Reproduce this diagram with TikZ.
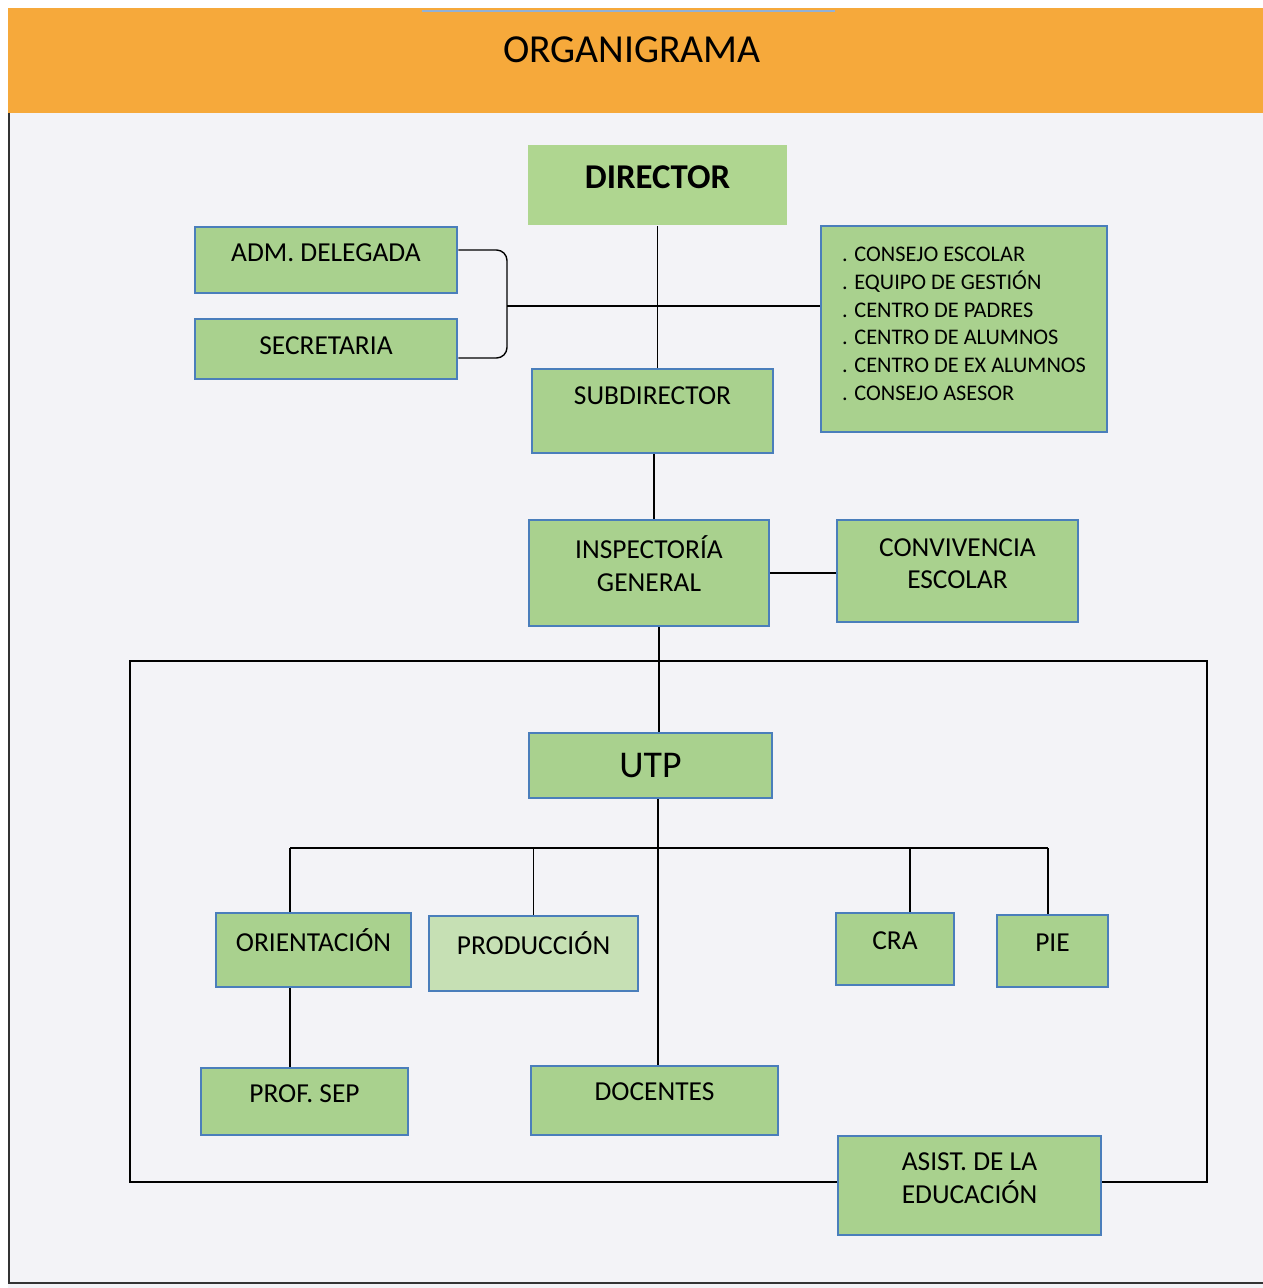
\documentclass[tikz,border=0pt]{standalone}
\usepackage{fontspec}
\setmainfont{Carlito}

\definecolor{naranja}{HTML}{F6A93B}
\definecolor{verde}{HTML}{A9D18E}
\definecolor{verdedir}{HTML}{AFD690}
\definecolor{verdeclaro}{HTML}{C6E0B4}
\definecolor{azulborde}{HTML}{4A7EBB}
\definecolor{fondo}{HTML}{F3F3F7}

\tikzset{
  caja/.style={draw=azulborde, line width=1.6pt, fill=verde, align=center,
    font=\fontsize{15.6}{18.7}\selectfont, inner sep=2pt},
  linea/.style={black, line width=0.8pt},
  sube/.style={text depth=#1},
}

\begin{document}
\begin{tikzpicture}[x=0.02cm, y=-0.02cm]

        \useasboundingbox (0,0) rectangle (1263,1288);

        % Fondo de la hoja y franja del título
        \fill[white] (0,0) rectangle (1263,1288);
        \fill[fondo] (8,8) rectangle (1263,1288);
        \fill[naranja] (8,8) rectangle (1263,113);
        \draw[azulborde!60, line width=0.6pt] (422,11) -- (835,11);
        \node[font=\fontsize{22.6}{26}\selectfont] (titulo) at (632,50) {ORGANIGRAMA};

        % Bordes de la hoja escaneada
        \draw[black!80, line width=1pt] (9,113) -- (9,1283) -- (1263,1283);

        % Marco inferior
        \draw[linea] (130,661) rectangle (1207,1182);

        % Cajas
        \node[caja, draw=none, fill=verdedir, sube=9pt, font=\fontsize{19.8}{23}\selectfont\bfseries,
              minimum width=5.18cm, minimum height=1.6cm] (dir) at (657.5,185) {DIRECTOR};
        \node[caja, sube=8pt, minimum width=5.24cm, minimum height=1.32cm] (adm) at (326,260) {ADM. DELEGADA};
        \node[caja, sube=3.4pt, minimum width=5.24cm, minimum height=1.2cm] (secr) at (326,349) {SECRETARIA};
        \node[caja, align=left, sube=6pt, font=\fontsize{12.7}{15.9}\selectfont,
              minimum width=5.72cm, minimum height=4.12cm] (consejo) at (964,329)
              {. CONSEJO ESCOLAR\\. EQUIPO DE GESTIÓN\\. CENTRO DE PADRES\\. CENTRO DE ALUMNOS\\. CENTRO DE EX ALUMNOS\\. CONSEJO ASESOR};
        \node[caja, sube=17pt, minimum width=4.82cm, minimum height=1.68cm] (sub) at (652.5,411) {SUBDIRECTOR};
        \node[caja, sube=10.8pt, minimum width=4.8cm, minimum height=2.12cm] (insp) at (649,573) {INSPECTORÍA\\GENERAL};
        \node[caja, sube=8.5pt, minimum width=4.82cm, minimum height=2.04cm] (conv) at (957.5,571) {CONVIVENCIA\\ESCOLAR};
        \node[caja, font=\fontsize{21.5}{25}\selectfont, minimum width=4.86cm, minimum height=1.3cm] (utp) at (650.5,765.5) {UTP};
        \node[caja, sube=11.3pt, minimum width=3.9cm, minimum height=1.48cm] (ori) at (313.5,950) {ORIENTACIÓN};
        \node[caja, fill=verdeclaro, sube=12pt, minimum width=4.18cm, minimum height=1.5cm] (prod) at (533.5,953.5) {PRODUCCIÓN};
        \node[caja, sube=9pt, minimum width=2.36cm, minimum height=1.44cm] (cra) at (895,949) {CRA};
        \node[caja, sube=9pt, minimum width=2.22cm, minimum height=1.44cm] (pie) at (1052.5,951) {PIE};
        \node[caja, sube=9.6pt, minimum width=4.94cm, minimum height=1.38cm] (doc) at (654.5,1100.5) {DOCENTES};
        \node[caja, sube=8.5pt, minimum width=4.14cm, minimum height=1.34cm] (prof) at (304.5,1101.5) {PROF. SEP};
        \node[caja, sube=8pt, minimum width=5.26cm, minimum height=1.98cm] (asist) at (969.5,1185.5) {ASIST. DE LA\\EDUCACIÓN};

        % Puntos de unión
        \coordinate (brk) at (507,306);
        \coordinate (bi) at (290,848);
        \coordinate (bd) at (1048,848);
        \coordinate (bcra) at (910,848);

        % Líneas superiores
        \draw[linea] (dir.south) -- (dir.south |- sub.north);
        \draw[linea, rounded corners=6pt] ([yshift=0.2cm]adm.east) -| (brk) |- ([yshift=-0.18cm]secr.east);
        \draw[linea] (brk) -- (brk -| consejo.west);
        \draw[linea] ([xshift=0.03cm]sub.south) -- ([xshift=0.03cm]sub.south |- insp.north);
        \draw[linea] (insp.east) -- (insp.east -| conv.west);
        \draw[linea] ([xshift=0.2cm]insp.south) -- ([xshift=0.2cm]insp.south |- utp.north);

        % Líneas de UTP
        \draw[linea] ([xshift=0.15cm]utp.south) -- ([xshift=0.15cm]utp.south |- doc.north);
        \draw[linea] (bi) -- (bd);
        \draw[linea] (bi) -- (bi |- ori.north);
        \draw[linea] (bi |- ori.south) -- (bi |- prof.north);
        \draw[linea] (prod.north |- bi) -- (prod.north);
        \draw[linea] (bcra) -- (bcra |- cra.north);
        \draw[linea] (bd) -- (bd |- pie.north);

\end{tikzpicture}
\end{document}
